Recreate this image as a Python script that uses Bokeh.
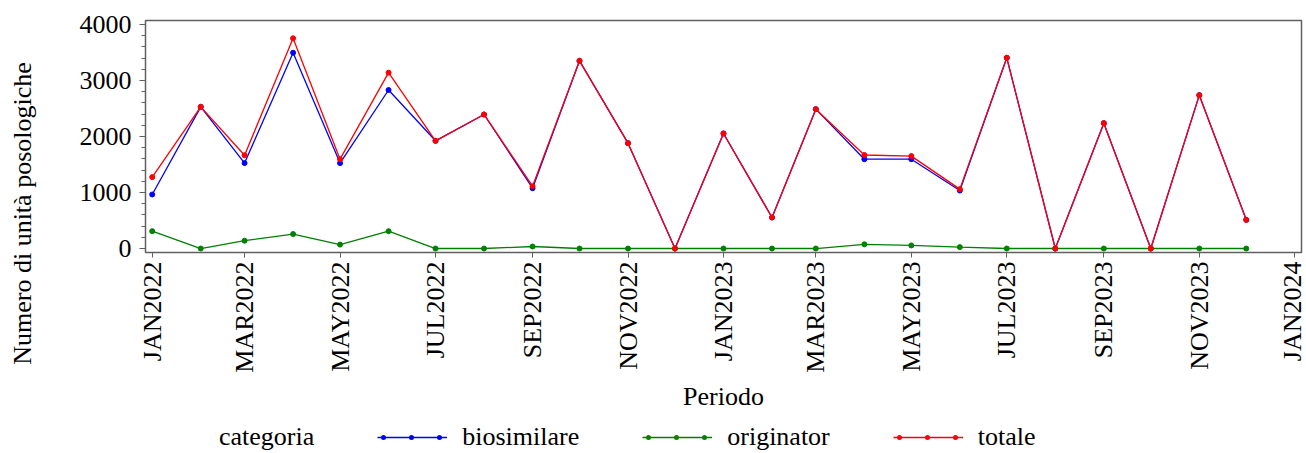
import math
import datetime as dt
from bokeh.plotting import figure
from bokeh.layouts import row, column
from bokeh.models import FixedTicker, SingleIntervalTicker, Legend, LegendItem, Title, Range1d
from bokeh.embed import file_html
from bokeh.resources import INLINE

# ---- data ----
periodi = ["2022-01-01", "2022-02-01", "2022-03-01", "2022-04-01", "2022-05-01", "2022-06-01",
           "2022-07-01", "2022-08-01", "2022-09-01", "2022-10-01", "2022-11-01", "2022-12-01",
           "2023-01-01", "2023-02-01", "2023-03-01", "2023-04-01", "2023-05-01", "2023-06-01",
           "2023-07-01", "2023-08-01", "2023-09-01", "2023-10-01", "2023-11-01", "2023-12-01"]
biosimilare = [965, 2530, 1525, 3495, 1525, 2830, 1923, 2393, 1077, 3351, 1881, 0,
               2054, 554, 2488, 1595, 1595, 1035, 3405, 0, 2238, 0, 2738, 512]
originator = [310, 0, 140, 258, 70, 310, 0, 0, 36, 0, 0, 0,
              0, 0, 0, 75, 55, 25, 0, 0, 0, 0, 0, 0]
totale = [1275, 2530, 1665, 3753, 1595, 3140, 1923, 2393, 1113, 3351, 1881, 0,
          2054, 554, 2488, 1670, 1650, 1060, 3405, 0, 2238, 0, 2738, 512]
tick_dates = ["2022-01-01", "2022-03-01", "2022-05-01", "2022-07-01", "2022-09-01", "2022-11-01",
              "2023-01-01", "2023-03-01", "2023-05-01", "2023-07-01", "2023-09-01", "2023-11-01",
              "2024-01-01"]
tick_labels = ["JAN2022", "MAR2022", "MAY2022", "JUL2022", "SEP2022", "NOV2022",
               "JAN2023", "MAR2023", "MAY2023", "JUL2023", "SEP2023", "NOV2023", "JAN2024"]
y_label = "Numero di unità posologiche"
x_label = "Periodo"
legend_title = "categoria"


def to_days(s):
    return (dt.date.fromisoformat(s) - dt.date(1970, 1, 1)).days


x = [to_days(s) for s in periodi]
xt = [to_days(s) for s in tick_dates]

FONT = "Liberation Serif"
FS = "26px"
AXC = "#606060"

# ---- main plot ----
p = figure(width=1256, height=413, output_backend="svg", toolbar_location=None,
           x_range=Range1d(xt[0] - 4.3, xt[-1] + 4.3), y_range=Range1d(-71, 4071),
           min_border_left=95, min_border_right=5, min_border_top=20, min_border_bottom=161)
p.grid.visible = False
p.outline_line_color = AXC
p.outline_line_width = 1.5

ya = p.yaxis[0]
ya.ticker = SingleIntervalTicker(interval=1000, num_minor_ticks=5)
ya.major_tick_out = 6
ya.major_tick_in = 0
ya.minor_tick_out = 4
ya.minor_tick_in = 0
ya.axis_line_color = AXC
ya.major_tick_line_color = AXC
ya.minor_tick_line_color = AXC
ya.major_label_text_font = FONT
ya.major_label_text_font_size = FS
ya.major_label_text_color = "black"
ya.major_label_standoff = 8

xa = p.xaxis[0]
xa.ticker = FixedTicker(ticks=xt, minor_ticks=[])
xa.major_label_overrides = dict(zip(xt, tick_labels))
xa.major_label_orientation = math.pi / 2
xa.major_tick_out = 5
xa.major_tick_in = 0
xa.axis_line_color = AXC
xa.major_tick_line_color = AXC
xa.minor_tick_line_color = None
xa.major_label_text_font = FONT
xa.major_label_text_font_size = FS
xa.major_label_text_color = "black"
xa.major_label_standoff = 4
xa.axis_label = x_label
xa.axis_label_text_font = FONT
xa.axis_label_text_font_size = FS
xa.axis_label_text_font_style = "normal"
xa.axis_label_text_color = "black"
xa.axis_label_standoff = 6

series = [("biosimilare", biosimilare, "#0000FF"),
          ("originator", originator, "#008000"),
          ("totale", totale, "#FF0000")]

for name, vals, col in series:
    p.line(x, vals, line_color=col, line_width=1.3)
    p.scatter(x, vals, size=5, fill_color=col, line_color=col)

# ---- y-axis title strip ----
pl = figure(width=50, height=453, output_backend="svg", toolbar_location=None,
            x_axis_location=None, y_axis_location=None,
            x_range=Range1d(0, 1), y_range=Range1d(0, 1),
            min_border_left=0, min_border_right=0, min_border_top=0, min_border_bottom=27)
pl.outline_line_color = None
pl.grid.visible = False
pl.add_layout(Title(text=y_label, align="center", standoff=10,
                    text_font=FONT, text_font_size=FS, text_font_style="normal",
                    text_color="black"), "left")

# ---- legend strip (its renderers hold the series but lie outside its view) ----
pg = figure(width=1256, height=40, output_backend="svg", toolbar_location=None,
            x_axis_location=None, y_axis_location=None,
            x_range=Range1d(0, 1), y_range=Range1d(-2, -1), min_border=0)
pg.outline_line_color = None
pg.grid.visible = False

items = []
r_cat = pg.line(x, totale, line_alpha=0)
items.append(LegendItem(label=legend_title, renderers=[r_cat]))
for name, vals, col in series:
    rl = pg.line(x, vals, line_color=col, line_width=1.3)
    rd = pg.line(x, vals, line_color=col, line_width=5, line_dash="0 28",
                 line_dash_offset=22, line_cap="round")
    items.append(LegendItem(label=name, renderers=[rl, rd]))

legend = Legend(items=items, orientation="horizontal", location=(-11, 1),
                glyph_width=70, glyph_height=20, label_standoff=15, spacing=63,
                padding=0, margin=0, border_line_color=None, background_fill_alpha=0,
                label_text_font=FONT, label_text_font_size=FS, label_text_color="black")
pg.add_layout(legend)

layout = row(pl, column(p, pg, spacing=0), spacing=0)
open("out.html", "w").write(file_html(layout, INLINE))
